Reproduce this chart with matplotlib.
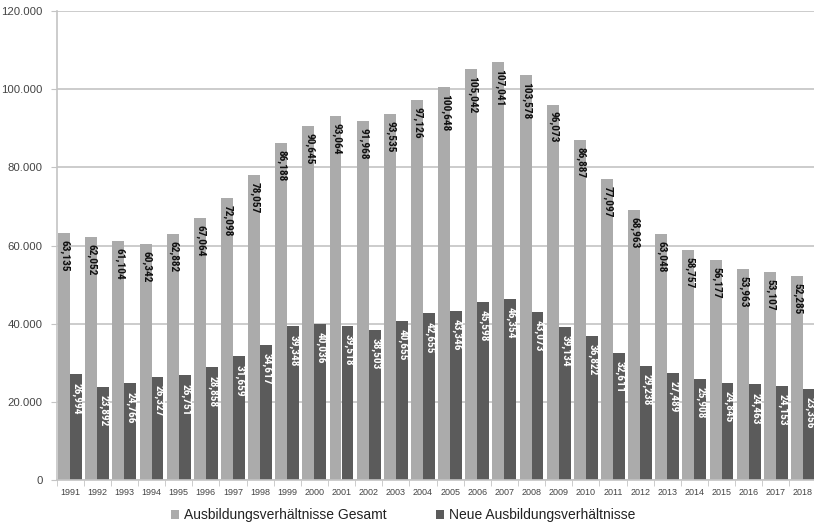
import matplotlib
matplotlib.use("Agg")
import matplotlib.pyplot as plt
from matplotlib import font_manager
from matplotlib.ticker import FuncFormatter, FixedLocator
import numpy as np

years = [str(y) for y in range(1991, 2019)]
gesamt = [63135, 62052, 61104, 60342, 62882, 67064, 72098, 78057, 86188, 90645,
          93064, 91968, 93535, 97126, 100648, 105042, 107041, 103578, 96073, 86887,
          77097, 68963, 63048, 58757, 56177, 53963, 53107, 52285]
neue = [26994, 23892, 24766, 26327, 26751, 28858, 31659, 34617, 39348, 40036,
        39518, 38503, 40655, 42655, 43346, 45598, 46354, 43073, 39134, 36822,
        32611, 29238, 27489, 25908, 24845, 24463, 24153, 23356]
series_names = ["Ausbildungsverhältnisse Gesamt", "Neue Ausbildungsverhältnisse"]

light = "#ababab"
dark = "#5b5b5b"
grid_c = "#c4c4c4"
text_c = "#444444"

plt.rcParams["font.family"] = ["Liberation Sans", "DejaVu Sans"]

# narrow bold face for the value labels, if one is installed
narrow_file = None
for f in font_manager.fontManager.ttflist:
    name = f.name.lower()
    fname = f.fname.lower()
    if ("narrow" in name or "condensed" in name or "condensed" in fname) and \
            ("bold" in fname) and ("oblique" not in fname) and ("italic" not in fname):
        narrow_file = f.fname
        if "liberation" in name:
            break
if narrow_file:
    label_font = font_manager.FontProperties(fname=narrow_file, size=8.2)
else:
    label_font = font_manager.FontProperties(family="Liberation Sans", weight="bold", size=7.2)

fig = plt.figure(figsize=(8.14, 5.28), dpi=100)
ax = fig.add_axes([56.5 / 814, 1 - 480 / 528, 760 / 814, 469 / 528])

x = np.arange(len(years))
w = 0.44
b1 = ax.bar(x - w / 2, gesamt, w, color=light, label=series_names[0], zorder=2)
b2 = ax.bar(x + w / 2, neue, w, color=dark, label=series_names[1], zorder=2)

def thousands_comma(v):
    return f"{v:,}"

for rect, v in zip(b1, gesamt):
    ax.annotate(thousands_comma(v), (rect.get_x() + rect.get_width() / 2, v),
                xytext=(0.6, -5), textcoords="offset points", rotation=270,
                ha="center", va="top", fontproperties=label_font,
                color="#111111", zorder=3)
for rect, v in zip(b2, neue):
    ax.annotate(thousands_comma(v), (rect.get_x() + rect.get_width() / 2, v),
                xytext=(0.6, -6), textcoords="offset points", rotation=270,
                ha="center", va="top", fontproperties=label_font,
                color="white", zorder=3)

ax.set_xlim(-0.5, len(years) - 0.5)
ax.set_ylim(0, 120000)
ax.yaxis.set_major_locator(FixedLocator(np.arange(0, 120001, 20000)))
ax.yaxis.set_major_formatter(FuncFormatter(lambda v, p: f"{int(v):,}".replace(",", ".")))
ax.set_xticks(x)
ax.set_xticklabels(years)
ax.set_xticks(np.arange(-0.5, len(years), 1), minor=True)

ax.grid(axis="y", color=grid_c, linewidth=1.2, zorder=0)
ax.set_axisbelow(True)
for s in ["top", "right"]:
    ax.spines[s].set_visible(False)
ax.spines["left"].set_color(grid_c)
ax.spines["left"].set_linewidth(1.2)
ax.spines["bottom"].set_color(grid_c)
ax.spines["bottom"].set_linewidth(1.2)

ax.tick_params(axis="y", length=4, color=grid_c, labelsize=8.2, labelcolor=text_c, pad=6)
ax.tick_params(axis="x", which="major", length=0, labelsize=6.5, labelcolor=text_c, pad=6)
ax.tick_params(axis="x", which="minor", length=4, color=grid_c)

fig.legend(handles=[b1, b2], labels=series_names, loc="center",
           bbox_to_anchor=(403 / 814, 1 - 515 / 528), ncol=2, frameon=False,
           fontsize=10, handlelength=0.6, handleheight=0.6, handletextpad=0.3,
           columnspacing=3.6, labelcolor="#222222")

fig.savefig("out.png", dpi=100)
